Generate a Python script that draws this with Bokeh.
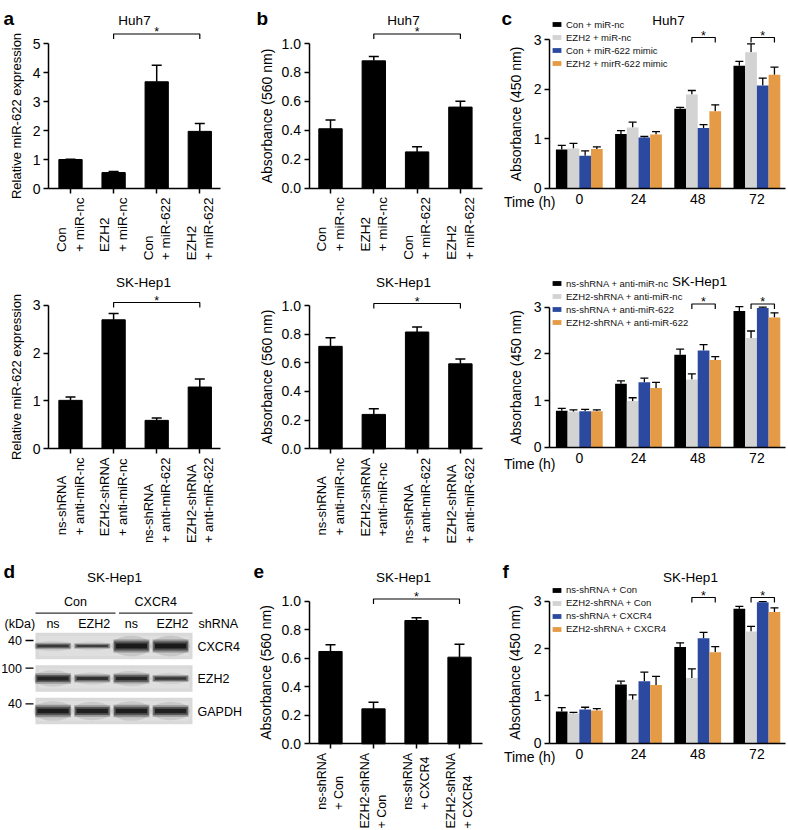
import math
from bokeh.plotting import figure
from bokeh.layouts import row, column
from bokeh.models import (Range1d, Whisker, TeeHead, ColumnDataSource,
                          Legend, LegendItem, FixedTicker, NumeralTickFormatter)
from bokeh.core.properties import value
from bokeh.embed import file_html
from bokeh.resources import INLINE

# ---------------------------------------------------------------- data
# panel a (Huh7): relative miR-622 expression
huh7_cats = ["Con\n+ miR-nc", "EZH2\n+ miR-nc", "Con\n+ miR-622", "EZH2\n+ miR-622"]
huh7_mir622 = [1.00, 0.55, 3.68, 1.97]
huh7_mir622_err = [0.01, 0.04, 0.57, 0.27]
# panel b (Huh7): absorbance 560 nm
huh7_abs560 = [0.41, 0.88, 0.25, 0.56]
huh7_abs560_err = [0.06, 0.03, 0.035, 0.04]

# panel a (SK-Hep1)
sk_cats_a = ["ns-shRNA\n+ anti-miR-nc", "EZH2-shRNA\n+ anti-miR-nc",
             "ns-shRNA\n+ anti-miR-622", "EZH2-shRNA\n+ anti-miR-622"]
sk_mir622 = [1.01, 2.70, 0.59, 1.29]
sk_mir622_err = [0.07, 0.13, 0.05, 0.17]
# panel b (SK-Hep1)
sk_cats_b = ["ns-shRNA\n+ anti-miR-nc", "EZH2-shRNA\n+anti-miR-nc",
             "ns-shRNA\n+ anti-miR-622", "EZH2-shRNA\n+ anti-miR-622"]
sk_abs560 = [0.715, 0.24, 0.815, 0.593]
sk_abs560_err = [0.06, 0.04, 0.035, 0.033]

# panel e (SK-Hep1, CXCR4 rescue)
cx_cats = ["ns-shRNA\n+ Con", "EZH2-shRNA\n+ Con", "ns-shRNA\n+ CXCR4", "EZH2-shRNA\n+ CXCR4"]
cx_abs560 = [0.647, 0.245, 0.864, 0.607]
cx_abs560_err = [0.047, 0.047, 0.02, 0.09]

# time course panels (c, f)
time_labels = ["0", "24", "48", "72"]

c1_names = ["Con + miR-nc", "EZH2 + miR-nc", "Con + miR-622 mimic", "EZH2 + mirR-622 mimic"]
c1_con_nc = [0.78, 1.09, 1.60, 2.47]
c1_con_nc_err = [0.08, 0.07, 0.03, 0.09]
c1_ezh2_nc = [0.80, 1.22, 1.89, 2.74]
c1_ezh2_nc_err = [0.10, 0.11, 0.08, 0.17]
c1_con_mimic = [0.65, 1.02, 1.21, 2.07]
c1_con_mimic_err = [0.10, 0.02, 0.07, 0.15]
c1_ezh2_mimic = [0.79, 1.08, 1.55, 2.29]
c1_ezh2_mimic_err = [0.04, 0.06, 0.13, 0.15]

c2_names = ["ns-shRNA + anti-miR-nc", "EZH2-shRNA + anti-miR-nc",
            "ns-shRNA + anti-miR-622", "EZH2-shRNA + anti-miR-622"]
c2_ns_nc = [0.78, 1.36, 1.98, 2.92]
c2_ns_nc_err = [0.05, 0.06, 0.12, 0.09]
c2_ezh2_nc = [0.76, 0.99, 1.45, 2.34]
c2_ezh2_nc_err = [0.04, 0.07, 0.12, 0.15]
c2_ns_anti = [0.77, 1.39, 2.07, 2.98]
c2_ns_anti_err = [0.04, 0.09, 0.13, 0.02]
c2_ezh2_anti = [0.77, 1.27, 1.87, 2.78]
c2_ezh2_anti_err = [0.03, 0.12, 0.07, 0.10]

f_names = ["ns-shRNA + Con", "EZH2-shRNA + Con", "ns-shRNA + CXCR4", "EZH2-shRNA + CXCR4"]
f_ns_con = [0.67, 1.24, 2.03, 2.84]
f_ns_con_err = [0.08, 0.07, 0.09, 0.05]
f_ezh2_con = [0.63, 0.92, 1.38, 2.36]
f_ezh2_con_err = [0.02, 0.10, 0.19, 0.11]
f_ns_cxcr4 = [0.71, 1.31, 2.22, 2.98]
f_ns_cxcr4_err = [0.05, 0.19, 0.12, 0.01]
f_ezh2_cxcr4 = [0.69, 1.23, 1.92, 2.77]
f_ezh2_cxcr4_err = [0.04, 0.18, 0.12, 0.09]

# panel d (western blot, SK-Hep1)
blot_groups = ["Con", "CXCR4"]
blot_lanes = ["ns", "EZH2", "ns", "EZH2"]
blot_proteins = ["CXCR4", "EZH2", "GAPDH"]
blot_markers = ["40", "100", "40"]
band_cxcr4 = [0.33, 0.22, 1.00, 1.00]
band_ezh2 = [0.72, 0.45, 0.66, 0.38]
band_gapdh = [0.92, 0.86, 0.92, 0.86]

# ---------------------------------------------------------------- style
FONT = "Liberation Sans"
BLACK, GREY, BLUE, ORANGE = "#000000", "#d3d3d3", "#2b4a9f", "#e59a45"
SERIES_COLORS = [BLACK, GREY, BLUE, ORANGE]


class Geo:
    """Pixel geometry of one panel: the plot frame fills the whole canvas."""
    def __init__(self, left, top, W, H, c0, pitch, y0, unit):
        self.left, self.top, self.W, self.H = left, top, W, H
        self.c0, self.pitch, self.y0, self.unit = c0, pitch, y0, unit

    def fx(self, px):
        return (px - self.c0) / self.pitch

    def fy(self, py):
        return (self.y0 - py) / self.unit

    def fig(self):
        p = figure(width=self.W, height=self.H, title=None,
                   x_range=Range1d(self.fx(self.left), self.fx(self.left + self.W)),
                   y_range=Range1d(self.fy(self.top + self.H), self.fy(self.top)),
                   min_border=0, min_border_left=0, min_border_right=0,
                   min_border_top=0, min_border_bottom=0,
                   output_backend="svg", toolbar_location=None)
        p.grid.visible = False
        p.outline_line_color = None
        return p


def style_axis(ax, label_size="14px", label_standoff=5):
    ax.axis_line_width = 1.5
    ax.axis_line_color = "black"
    ax.major_tick_line_width = 1.5
    ax.major_tick_line_color = "black"
    ax.major_tick_out = 5
    ax.major_tick_in = 0
    ax.minor_tick_line_color = None
    ax.major_label_text_font = FONT
    ax.major_label_text_font_size = "14px"
    ax.major_label_text_color = "black"
    ax.major_label_standoff = 3
    ax.axis_label_text_font = FONT
    ax.axis_label_text_font_size = label_size
    ax.axis_label_text_font_style = "normal"
    ax.axis_label_text_color = "black"
    ax.axis_label_standoff = label_standoff


def add_text(p, x, y, txt, size="13px", align="center", baseline="middle", bold=False):
    p.text(x=[x], y=[y], text=[txt], text_font=value(FONT), text_font_size=size,
           text_align=align, text_baseline=baseline, text_color="black",
           text_font_style="bold" if bold else "normal")


def add_bracket(p, g, xa, xb, br_px):
    yb = g.fy(br_px)
    d = 5 / g.unit
    p.line(x=[xa, xa, xb, xb], y=[yb - d, yb, yb, yb - d], line_color="black", line_width=1.2)
    add_text(p, (xa + xb) / 2, g.fy(br_px - 2), "*", size="12.5px")


def setup_axes(p, g, axis_px, axis_end_px, yticks, ylabel, lsize, lso, fmt=None):
    p.yaxis.fixed_location = g.fx(axis_px)
    p.xaxis.fixed_location = 0
    style_axis(p.xaxis[0])
    style_axis(p.yaxis[0], lsize, lso)
    p.yaxis.ticker = FixedTicker(ticks=yticks)
    p.yaxis.bounds = (0, yticks[-1])
    if fmt:
        p.yaxis.formatter = NumeralTickFormatter(format=fmt)
    p.yaxis.axis_label = ylabel
    p.xaxis.bounds = (g.fx(axis_px), g.fx(axis_end_px))


def cat_panel(g, cats, vals, errs, yticks, ylabel, title, letter, opt):
    p = g.fig()
    idx = list(range(len(cats)))
    p.vbar(x=idx, top=vals, width=0.54, fill_color="black", line_color="black")
    src = ColumnDataSource(dict(x=idx, lo=vals, hi=[v + e for v, e in zip(vals, errs)]))
    p.add_layout(Whisker(source=src, base="x", lower="lo", upper="hi",
                         line_color="black", line_width=1.5, lower_head=None,
                         upper_head=TeeHead(size=10, line_color="black", line_width=1.5)))
    setup_axes(p, g, opt["axis"], opt["axis_end"], yticks, ylabel, opt["ls"], opt["lso"],
               opt.get("fmt"))
    p.xaxis.ticker = FixedTicker(ticks=idx)
    p.xaxis.major_label_text_color = None
    # category labels, rotated, lines left-justified
    p.text(x=idx, y=[g.fy(g.y0 + 9)] * len(idx), text=cats, angle=math.pi / 2,
           anchor=value("center_right"), text_align="left", text_baseline="middle",
           text_font=value(FONT), text_font_size=opt["cs"], text_color="black",
           text_line_height=1.15)
    add_bracket(p, g, 1, 3, opt["br"])
    add_text(p, g.fx(opt["tx"]), g.fy(opt["ty"]), title, size="13.5px")
    if letter:
        add_text(p, g.fx(opt["lx"]), g.fy(opt["ly"]), letter, size="19px",
                 align="left", baseline="alphabetic", bold=True)
    return p


def time_panel(g, series, errs, names, ylabel, title, letter, opt):
    p = g.fig()
    bw = 11.7 / g.pitch
    items = []
    n = len(time_labels)
    for k, (vals, ee, nm) in enumerate(zip(series, errs, names)):
        xs = [i + (k - 1.5) * bw for i in range(n)]
        r = p.vbar(x=xs, top=vals, width=bw, fill_color=SERIES_COLORS[k], line_color=None)
        items.append(LegendItem(label=nm, renderers=[r]))
        src = ColumnDataSource(dict(x=xs, lo=vals, hi=[v + e for v, e in zip(vals, ee)]))
        p.add_layout(Whisker(source=src, base="x", lower="lo", upper="hi",
                             line_color="black", line_width=1.3, lower_head=None,
                             upper_head=TeeHead(size=8, line_color="black", line_width=1.3)))
    setup_axes(p, g, 549, 785, [0, 1, 2, 3], ylabel, "14px", opt["lso"])
    p.xaxis.ticker = FixedTicker(ticks=list(range(n)))
    p.xaxis.major_label_overrides = {i: t for i, t in enumerate(time_labels)}
    p.xaxis.major_tick_out = 0
    p.xaxis.major_label_standoff = 6
    # brackets: grey vs orange bars at 48 h and 72 h
    for gi in (2, 3):
        add_bracket(p, g, gi - 0.5 * bw, gi + 1.5 * bw, opt["br"])
    add_text(p, g.fx(opt["tx"]), g.fy(opt["ty"]), title, size="13.5px")
    if letter:
        add_text(p, g.fx(opt["lx"]), g.fy(opt["ly"]), letter, size="19px",
                 align="left", baseline="alphabetic", bold=True)
    add_text(p, g.fx(555), g.fy(opt["xl"]), "Time (h)", size="14px", align="right")
    item_h, spacing = 10, 2
    leg_bottom = opt["lt"] + 4 * item_h + 3 * spacing
    legend = Legend(items=items, location=(551 - g.left, g.top + g.H - leg_bottom),
                    margin=0, padding=0, spacing=spacing, label_height=item_h,
                    glyph_height=6, glyph_width=11, label_standoff=4,
                    label_text_font=FONT, label_text_font_size="9.5px",
                    label_text_color="#111111", border_line_color=None,
                    background_fill_alpha=0)
    p.add_layout(legend)
    return p


# ---------------------------------------------------------------- row 1
g = Geo(0, 0, 250, 270, c0=70, pitch=43.1, y0=188, unit=29.0)
fa1 = cat_panel(g, huh7_cats, huh7_mir622, huh7_mir622_err, [0, 1, 2, 3, 4, 5],
                "Relative miR-622 expression", "Huh7", "a",
                dict(axis=48, axis_end=220, ls="13px", lso=6, cs="13.5px",
                     br=33.5, tx=134, ty=20, lx=3, ly=18))

g = Geo(250, 0, 250, 270, c0=330, pitch=43.3, y0=187.5, unit=144.5)
fb1 = cat_panel(g, huh7_cats, huh7_abs560, huh7_abs560_err, [0, 0.2, 0.4, 0.6, 0.8, 1.0],
                "Absorbance (560 nm)", "Huh7", "b",
                dict(axis=308.5, axis_end=482, ls="14px", lso=4, cs="13.5px", fmt="0.0",
                     br=33.5, tx=403, ty=20, lx=256, ly=18))

g = Geo(500, 0, 288, 270, c0=578.8, pitch=59.2, y0=187.5, unit=49.5)
fc1 = time_panel(g, [c1_con_nc, c1_ezh2_nc, c1_con_mimic, c1_ezh2_mimic],
                 [c1_con_nc_err, c1_ezh2_nc_err, c1_con_mimic_err, c1_ezh2_mimic_err],
                 c1_names, "Absorbance (450 nm)", "Huh7", "c",
                 dict(lso=7, br=37, tx=668, ty=20, lx=501, ly=18, xl=201.5, lt=22.5))

# ---------------------------------------------------------------- row 2
g = Geo(0, 270, 250, 280, c0=70, pitch=43.1, y0=448, unit=47.67)
fa2 = cat_panel(g, sk_cats_a, sk_mir622, sk_mir622_err, [0, 1, 2, 3],
                "Relative miR-622 expression", "SK-Hep1", "",
                dict(axis=48, axis_end=220, ls="13px", lso=6, cs="13px",
                     br=302, tx=143, ty=282))

g = Geo(250, 270, 250, 280, c0=330, pitch=43.3, y0=448.3, unit=143.3)
fb2 = cat_panel(g, sk_cats_b, sk_abs560, sk_abs560_err, [0, 0.2, 0.4, 0.6, 0.8, 1.0],
                "Absorbance (560 nm)", "SK-Hep1", "",
                dict(axis=308.5, axis_end=482, ls="14px", lso=4, cs="13px", fmt="0.0",
                     br=303, tx=403, ty=282))

g = Geo(500, 270, 288, 280, c0=578.8, pitch=59.2, y0=446.7, unit=46.67)
fc2 = time_panel(g, [c2_ns_nc, c2_ezh2_nc, c2_ns_anti, c2_ezh2_anti],
                 [c2_ns_nc_err, c2_ezh2_nc_err, c2_ns_anti_err, c2_ezh2_anti_err],
                 c2_names, "Absorbance (450 nm)", "SK-Hep1", "",
                 dict(lso=7, br=303.5, tx=699, ty=281, xl=463, lt=281.5))

# ---------------------------------------------------------------- row 3
# western blot: lane k centre at 52.5 + 39.2 k px, protein row r centre at 645.5 + 32.5 r px
LANE_PX, LANE0 = 39.2, 52.5
ROW_PX, ROW0 = 32.5, 645.5
D_TOP, D_H, D_W = 550, 280, 250
lx_ = lambda px: (px - LANE0) / LANE_PX
ly_ = lambda py: (py - ROW0) / ROW_PX
fd = figure(width=D_W, height=D_H, title=None, x_axis_type=None, y_axis_type=None,
            x_range=Range1d(lx_(0), lx_(D_W)), y_range=Range1d(ly_(D_TOP + D_H), ly_(D_TOP)),
            min_border=0, output_backend="svg", toolbar_location=None)
fd.grid.visible = False
fd.outline_line_color = None
n_lanes = len(blot_lanes)
lane_x = list(range(n_lanes))
blot_cx = (lx_(35) + lx_(192)) / 2
blot_w = lx_(192) - lx_(35)
fd.rect(x=[blot_cx] * 3, y=list(range(len(blot_proteins))), width=blot_w, height=26.5 / ROW_PX,
        fill_color="#d9d9d9", line_color=None)
fd.rect(x=[blot_cx] * 3, y=list(range(len(blot_proteins))), width=blot_w * 0.96,
        height=20 / ROW_PX, fill_color="#e2e2e2", fill_alpha=0.6, line_color=None)
for r, inten in enumerate([band_cxcr4, band_ezh2, band_gapdh]):
    th = [(2.5 + 6.5 * v) / ROW_PX for v in inten]
    fd.ellipse(x=lane_x, y=[r] * n_lanes, width=1.0, height=[t * 2.3 for t in th],
               fill_color="#222222", fill_alpha=[0.12 * (0.5 + 0.5 * v) for v in inten],
               line_color=None)
    for scale_h, wid, a in ((1.45, 0.92, 0.3), (1.0, 0.88, 0.5), (0.55, 0.8, 0.85)):
        fd.rect(x=lane_x, y=[r] * n_lanes, width=wid, height=[t * scale_h for t in th],
                fill_color="#111111", fill_alpha=[a * (0.55 + 0.45 * v) for v in inten],
                line_color=None)
marker_off = [-0.17, -0.32, -0.22]
for r, (mw, off) in enumerate(zip(blot_markers, marker_off)):
    add_text(fd, lx_(21.5), r + off, mw, size="12.5px", align="right")
    fd.line(x=[lx_(25), lx_(33)], y=[r + off, r + off], line_color="black", line_width=1.3)
for r, prot in enumerate(blot_proteins):
    add_text(fd, lx_(197), r + 0.03, prot, size="12.5px", align="left")
for k, ln in enumerate(blot_lanes):
    add_text(fd, k + (0.05 if ln == "EZH2" else 0), ly_(623.5), ln, size="12.5px")
add_text(fd, lx_(4), ly_(623.5), "(kDa)", size="12.5px", align="left")
add_text(fd, lx_(198), ly_(623.5), "shRNA", size="12.5px", align="left")
for gi, grp in enumerate(blot_groups):
    x_a = lx_(35) if gi == 0 else lx_(118.5)
    x_b = lx_(115) if gi == 0 else lx_(192)
    fd.line(x=[x_a, x_b], y=[ly_(612.7)] * 2, line_color="#333333", line_width=1.2)
    add_text(fd, (x_a + x_b) / 2, ly_(601), grp, size="12.5px")
add_text(fd, lx_(114), ly_(577), "SK-Hep1", size="13.5px")
add_text(fd, lx_(3), ly_(571), "d", size="19px", align="left", baseline="alphabetic", bold=True)

g = Geo(250, 550, 250, 280, c0=330, pitch=43.0, y0=743.3, unit=142.7)
fe = cat_panel(g, cx_cats, cx_abs560, cx_abs560_err, [0, 0.2, 0.4, 0.6, 0.8, 1.0],
               "Absorbance (560 nm)", "SK-Hep1", "e",
               dict(axis=308.5, axis_end=482, ls="14px", lso=5, cs="12.5px", fmt="0.0",
                    br=598.5, tx=403, ty=577, lx=253, ly=571))

g = Geo(500, 550, 288, 280, c0=578.8, pitch=59.2, y0=742.7, unit=47.33)
ff = time_panel(g, [f_ns_con, f_ezh2_con, f_ns_cxcr4, f_ezh2_cxcr4],
                [f_ns_con_err, f_ezh2_con_err, f_ns_cxcr4_err, f_ezh2_cxcr4_err],
                f_names, "Absorbance (450 nm)", "SK-Hep1", "f",
                dict(lso=8, br=597, tx=690, ty=577, lx=502, ly=571, xl=756.5, lt=588))

root = column(row(fa1, fb1, fc1), row(fa2, fb2, fc2), row(fd, fe, ff),
              styles={"position": "absolute", "left": "0px", "top": "0px"})

open("out.html", "w").write(file_html(root, INLINE))
